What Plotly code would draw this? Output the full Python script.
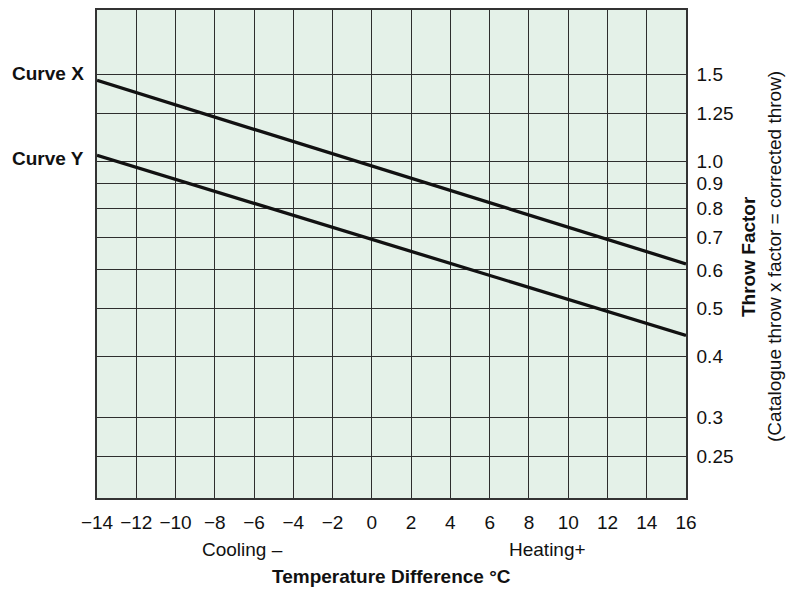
import plotly.graph_objects as go

# ---- data ----
temp_diff = [-14, 16]                 # °C, ends of the straight lines
curve_x = [1.46, 0.617]               # throw factor, Curve X
curve_y = [1.027, 0.441]              # throw factor, Curve Y

x_ticks = list(range(-14, 17, 2))
x_tick_text = [("\u2212" + str(-v)) if v < 0 else str(v) for v in x_ticks]
y_ticks = [0.25, 0.3, 0.4, 0.5, 0.6, 0.7, 0.8, 0.9, 1.0, 1.25, 1.5]
y_tick_text = ["0.25", "0.3", "0.4", "0.5", "0.6", "0.7", "0.8", "0.9", "1.0", "1.25", "1.5"]

FONT = "Liberation Sans, Arial, Helvetica, sans-serif"
FS = 19
OFF = 8                      # page body margin
W, H = 796 - OFF, 590 - OFF
L, T = 97 - OFF, 0
PW, PH = 589, 490
R, B = W - L - PW, H - T - PH


def px(x):
    return (x - OFF - L) / PW


def py(y):
    return (T + PH - (y - OFF)) / PH


fig = go.Figure()
for name, vals in [("Curve X", curve_x), ("Curve Y", curve_y)]:
    fig.add_trace(go.Scatter(x=temp_diff, y=vals, mode="lines", name=name,
                             line=dict(color="#111111", width=3.3),
                             showlegend=False, hoverinfo="skip"))

fig.update_layout(
    width=W, height=H,
    margin=dict(l=L, r=R, t=T, b=B),
    paper_bgcolor="white",
    plot_bgcolor="#e4f1e8",
    font=dict(family=FONT, size=FS, color="#111111"),
    showlegend=False,
)

fig.update_xaxes(
    range=[-14, 16], tickvals=x_ticks, ticktext=x_tick_text,
    showgrid=True, gridcolor="#2e2e2e", gridwidth=1.2,
    zeroline=False, showline=True, linecolor="#333333", linewidth=1.5, mirror=True,
    ticks="outside", ticklen=6, tickcolor="rgba(0,0,0,0)",
    tickfont=dict(size=FS, family=FONT, color="#111111"),
)
fig.update_yaxes(
    type="log", range=[-0.6869, 0.3078], side="right",
    tickvals=y_ticks, ticktext=y_tick_text,
    showgrid=True, gridcolor="#2e2e2e", gridwidth=1.2,
    zeroline=False, showline=True, linecolor="#333333", linewidth=1.5, mirror=True,
    ticks="outside", ticklen=5, tickcolor="rgba(0,0,0,0)",
    tickfont=dict(size=FS, family=FONT, color="#111111"),
)

ann = [
    dict(text="<b>Curve X</b>", x=px(86), y=py(72), xanchor="right", yanchor="middle"),
    dict(text="<b>Curve Y</b>", x=px(86), y=py(157), xanchor="right", yanchor="middle"),
    dict(text="Cooling \u2013", x=px(242), y=py(550), xanchor="center", yanchor="middle"),
    dict(text="Heating+", x=px(547), y=py(550), xanchor="center", yanchor="middle"),
    dict(text="<b>Temperature Difference \u00b0C</b>", x=px(391), y=py(577),
         xanchor="center", yanchor="middle"),
    dict(text="<b>Throw Factor</b>", x=px(749), y=py(256), xanchor="center",
         yanchor="middle", textangle=-90),
    dict(text="(Catalogue throw x factor = corrected throw)", x=px(775), y=py(256),
         xanchor="center", yanchor="middle", textangle=-90),
]
for a in ann:
    fig.add_annotation(xref="paper", yref="paper", showarrow=False,
                       font=dict(family=FONT, size=FS, color="#111111"), **a)

fig.write_html("out.html")
